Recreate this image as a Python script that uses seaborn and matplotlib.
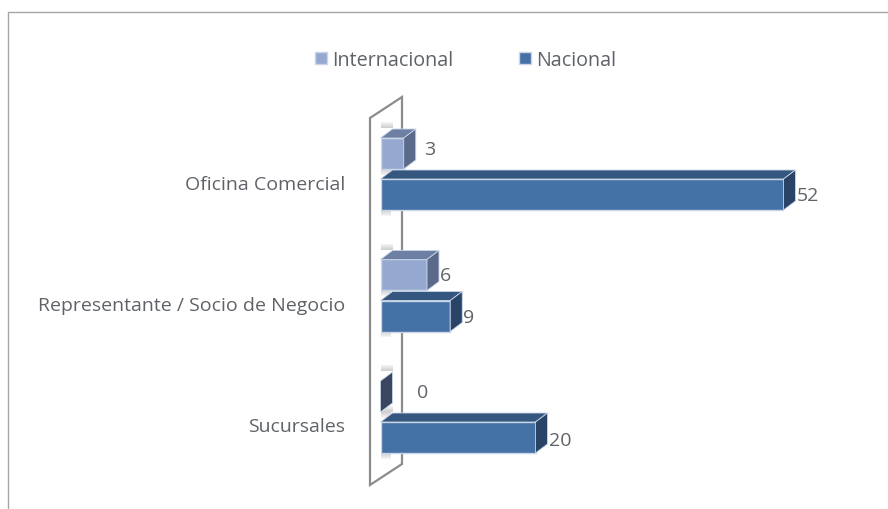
import matplotlib
matplotlib.use("Agg")
import matplotlib.pyplot as plt
import pandas as pd
import seaborn as sns
from matplotlib.patches import Polygon, Rectangle
from matplotlib.lines import Line2D
from matplotlib.transforms import ScaledTranslation

# data
categorias = ["Oficina Comercial", "Representante / Socio de Negocio", "Sucursales"]
internacional = [3, 6, 0]
nacional = [52, 9, 20]
series = ["Internacional", "Nacional"]

W, H = 888, 510
DX, DY = 12, 9  # depth of the fake 3d, in pixels
TXT = "#5f6368"
colores = {"Internacional": "#95a9d0", "Nacional": "#4472a6"}
tapa = {"Internacional": "#6d7fa3", "Nacional": "#34567f"}
lado = {"Internacional": "#5b6a8a", "Nacional": "#2a4468"}
# label shift from the side face, px (Internacional then Nacional)
gap_lbl = {"Internacional": [8, 1, 24], "Nacional": [1, 1, 1]}
alto_lbl = {"Internacional": [4, 0, 4], "Nacional": [0, -1, -2]}

df = pd.DataFrame({
    "cat": categorias * 2,
    "serie": ["Internacional"] * 3 + ["Nacional"] * 3,
    "valor": internacional + nacional,
})

sns.set_theme(style="white")
plt.rcParams["font.family"] = ["Open Sans", "DejaVu Sans"]

fig = plt.figure(figsize=(W / 100, H / 100), dpi=100)
ax = fig.add_axes([380.5 / W, 1 - 478.75 / H, 403 / W, 364.5 / H])
ax.patch.set_alpha(0)

sns.barplot(data=df, y="cat", x="valor", hue="serie", hue_order=series, order=categorias,
            palette=colores, width=0.675, gap=0.244, orient="h", ax=ax, zorder=3,
            edgecolor="#c9d6e8", linewidth=1, saturation=1)
ax.set_xlim(0, 52)
ax.set_ylim(2.5, -0.5)
sns.despine(ax=ax, left=True, bottom=True)
ax.set_xlabel("")
ax.set_ylabel("")
ax.set_xticks([])
ax.tick_params(axis="y", length=0, pad=25.5, labelsize=14, labelcolor=TXT)
# category names sit a little below the bar pair
bajar = ScaledTranslation(0, -7.5 / 100, fig.dpi_scale_trans)
for lab in ax.get_yticklabels():
    lab.set_transform(lab.get_transform() + bajar)


def figpoly(pts, **kw):
    fig.add_artist(Polygon([(x / W, 1 - y / H) for x, y in pts], transform=fig.transFigure, **kw))


# chart frame, open at the bottom
fig.add_artist(Line2D([7.5 / W, 7.5 / W, 1], [0, 1 - 12.5 / H, 1 - 12.5 / H],
                      color="#a6a6a6", lw=1, transform=fig.transFigure))
# thin side wall behind the bars
figpoly([(370, 119), (402, 98), (402, 465), (370, 486)], closed=True, fill=False,
        edgecolor="#8c8c8c", lw=1.6, zorder=0)

ux = DX * 52 / 403
uy = DY * 3 / 364.5

for serie, cont in zip(series, ax.containers):
    for i, bar in enumerate(cont):
        x0, y0 = bar.get_x(), bar.get_y()
        w, h = bar.get_width(), bar.get_height()
        x1, y1 = x0 + w, y0 + h
        # soft shadow on the wall, above and below the bar
        for k in range(6):
            sh = dict(facecolor="#7a7a7a", edgecolor="none", alpha=0.10 + 0.05 * k, zorder=1, clip_on=False)
            ax.add_patch(Rectangle((0, y0 - uy - (7 - k) * 0.0082), ux, 0.0082, **sh))
            ax.add_patch(Rectangle((0, y1 + (k) * 0.0082), ux * 0.9, 0.0082,
                                   **{**sh, "alpha": 0.34 - 0.05 * k}))
        # top and side faces
        if w > 0:
            ax.add_patch(Polygon([(x0, y0), (x0 + ux, y0 - uy), (x1 + ux, y0 - uy), (x1, y0)],
                                 facecolor=tapa[serie], edgecolor="#c9d6e8", lw=0.6, zorder=4, clip_on=False))
        color_lado = lado[serie] if w > 0 else "#3a4560"
        ax.add_patch(Polygon([(x1, y0), (x1 + ux, y0 - uy), (x1 + ux, y1 - uy), (x1, y1)],
                             facecolor=color_lado, edgecolor="#c9d6e8", lw=0.6, zorder=4, clip_on=False))
        # value label
        ax.annotate(f"{w:.0f}", (x1 + ux, (y0 + y1) / 2),
                    xytext=(gap_lbl[serie][i] * 0.72, alto_lbl[serie][i] * 0.72), textcoords="offset points",
                    ha="left", va="center", fontsize=14, color=TXT, zorder=6, annotation_clip=False)

handles, labels = ax.get_legend_handles_labels()
leg = ax.legend(handles, labels, ncol=2, loc="center left", frameon=False,
                bbox_to_anchor=(299 / W, 1 - 61 / H), bbox_transform=fig.transFigure,
                fontsize=14.2, labelcolor=TXT, handlelength=0.62, handleheight=0.62,
                handletextpad=0.28, columnspacing=3.3, borderpad=0.3)

fig.savefig("out.png", dpi=100)
